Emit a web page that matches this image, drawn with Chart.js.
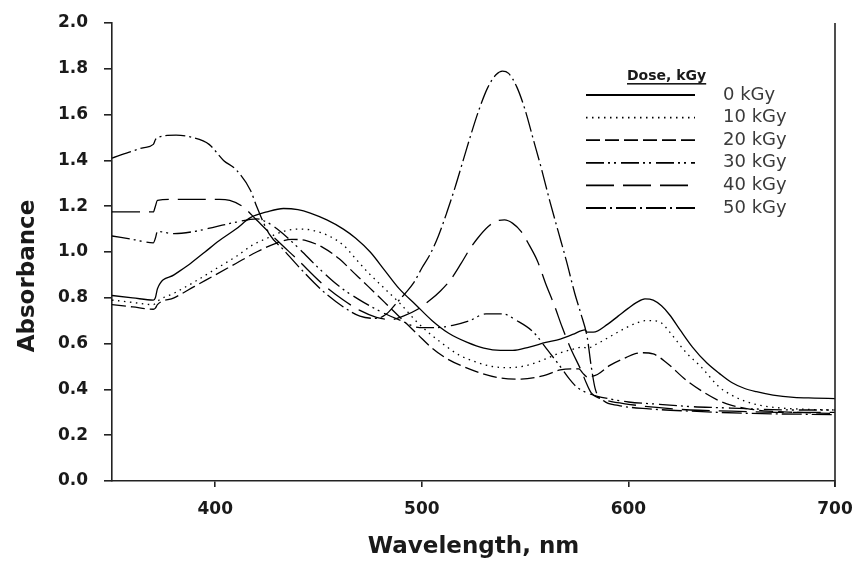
<!DOCTYPE html>
<html>
<head>
<meta charset="utf-8">
<script src="https://cdn.jsdelivr.net/npm/chart.js@4.4.1/dist/chart.umd.min.js"></script>
<style>
html,body{margin:0;padding:0;background:#fff;}
#wrap{width:855px;height:566px;position:relative;}
</style>
</head>
<body>
<div id="wrap"><canvas id="c" width="855" height="566"></canvas></div>
<script>
// ---- data ----
const doseLabels = ['0 kGy', '10 kGy', '20 kGy', '30 kGy', '40 kGy', '50 kGy'];
const legendTitle = 'Dose, kGy';
const xTitle = 'Wavelength, nm';
const yTitle = 'Absorbance';
const xTickValues = [400, 500, 600, 700];
const yTickValues = [0, 0.2, 0.4, 0.6, 0.8, 1.0, 1.2, 1.4, 1.6, 1.8, 2.0];

const wl0  = [350,360,370,371,372,380,388,395,402,410,417,425,433,440,446,454,462,468,475,482,489,497,505,513,522,530,538,544,552,560,567,573,579,580,583,590,595,600,604,608,612,616,620,625,631,638,644,650,656,662,670,680,690,700];
const abs0 = [0.81,0.80,0.79,0.80,0.84,0.90,0.95,1.00,1.05,1.10,1.15,1.175,1.19,1.185,1.17,1.14,1.10,1.06,1.00,0.92,0.84,0.77,0.70,0.645,0.605,0.58,0.57,0.57,0.585,0.605,0.62,0.64,0.66,0.65,0.65,0.685,0.72,0.755,0.78,0.795,0.79,0.765,0.725,0.66,0.585,0.515,0.47,0.43,0.405,0.39,0.375,0.365,0.362,0.36];

const wl1  = [350,360,370,371,372,380,390,400,410,418,425,433,440,447,455,462,468,474,482,490,497,503,510,518,526,534,542,551,559,567,573,578,580,585,591,599,604,608,612,616,620,628,635,644,650,656,664,675,690,700];
const abs1 = [0.79,0.78,0.77,0.775,0.785,0.82,0.87,0.925,0.98,1.03,1.06,1.09,1.10,1.095,1.07,1.03,0.97,0.91,0.84,0.77,0.70,0.65,0.60,0.55,0.52,0.50,0.495,0.505,0.53,0.56,0.575,0.585,0.58,0.60,0.63,0.67,0.69,0.70,0.70,0.69,0.65,0.56,0.50,0.41,0.375,0.35,0.33,0.318,0.312,0.31];

const wl2  = [350,360,370,371,372,380,390,400,410,420,430,437,444,452,460,467,474,482,490,498,505,512,520,529,538,548,559,567,573,576,578,580,585,591,599,603,607,612,618,628,636,644,650,658,668,680,700];
const abs2 = [0.77,0.76,0.75,0.755,0.77,0.80,0.85,0.90,0.95,1.00,1.04,1.055,1.05,1.02,0.97,0.91,0.85,0.78,0.71,0.64,0.58,0.535,0.50,0.47,0.45,0.445,0.46,0.485,0.49,0.49,0.47,0.455,0.465,0.505,0.54,0.555,0.56,0.555,0.52,0.44,0.39,0.35,0.33,0.315,0.305,0.30,0.295];

const wl3  = [350,360,370,371,372,380,390,400,410,420,425,430,440,450,460,470,480,490,499,507,515,523,531,539,546,554,561,567,571,575,580,585,590,600,615,630,645,660,680,700];
const abs3 = [1.07,1.055,1.04,1.06,1.09,1.08,1.09,1.11,1.13,1.145,1.13,1.10,1.02,0.93,0.85,0.79,0.74,0.70,0.67,0.67,0.68,0.70,0.73,0.73,0.70,0.65,0.57,0.50,0.45,0.41,0.385,0.37,0.36,0.345,0.335,0.325,0.32,0.315,0.31,0.31];

const wl4  = [350,360,370,371,372,380,388,395,402,407,413,420,430,440,452,462,470,478,485,491,498,504,509,514,519,523,527,532,536,540,544,548,552,556,560,564,568,572,577,580,582,585,590,600,615,630,650,675,700];
const abs4 = [1.175,1.175,1.175,1.20,1.225,1.23,1.23,1.23,1.23,1.225,1.20,1.14,1.05,0.965,0.86,0.79,0.745,0.715,0.705,0.72,0.75,0.79,0.83,0.88,0.95,1.01,1.06,1.11,1.135,1.14,1.125,1.09,1.03,0.96,0.86,0.77,0.67,0.58,0.485,0.42,0.385,0.365,0.35,0.335,0.32,0.31,0.305,0.30,0.30];

const wl5  = [350,358,365,370,371,372,381,389,397,404,410,417,420,426,433,442,452,462,470,478,483,488,492,496,500,504,508,512,516,520,524,528,532,536,539,542,546,550,554,558,562,566,570,574,577,580,582,584,588,595,610,630,660,700];
const abs5 = [1.41,1.435,1.455,1.47,1.49,1.50,1.51,1.50,1.47,1.40,1.36,1.27,1.20,1.08,1.01,0.92,0.83,0.76,0.72,0.71,0.73,0.78,0.82,0.865,0.93,0.99,1.07,1.17,1.28,1.40,1.52,1.63,1.72,1.775,1.79,1.78,1.72,1.62,1.49,1.36,1.22,1.09,0.96,0.82,0.73,0.63,0.50,0.40,0.35,0.33,0.315,0.305,0.295,0.29];

const seriesWl  = [wl0, wl1, wl2, wl3, wl4, wl5];
const seriesAbs = [abs0, abs1, abs2, abs3, abs4, abs5];

// ---- styles ----
const dashStyles = [[], [1.5, 4.5], [14, 5], [18, 4, 2, 4, 2, 5], [28, 9], [20, 4, 2, 4]];
const TXT = '#1a1a1a';

const datasets = doseLabels.map((lab, i) => ({
  label: lab,
  data: seriesWl[i].map((w, k) => ({x: w, y: seriesAbs[i][k]})),
  borderColor: '#000',
  borderWidth: 1.3,
  borderDash: dashStyles[i],
  pointRadius: 0,
  fill: false,
  cubicInterpolationMode: 'monotone'
}));

const legendPlugin = {
  id: 'doseLegend',
  afterDraw(chart) {
    const ctx = chart.ctx;
    ctx.save();
    ctx.fillStyle = TXT;
    ctx.font = 'bold 14px "DejaVu Sans"';
    ctx.textBaseline = 'alphabetic';
    ctx.textAlign = 'left';
    ctx.fillText(legendTitle, 627, 80);
    const tw = ctx.measureText(legendTitle).width;
    ctx.fillRect(627, 83, tw, 1.6);
    chart.data.datasets.forEach((ds, i) => {
      const y = 95 + i * 22.6;
      ctx.strokeStyle = '#000';
      ctx.lineWidth = 1.8;
      ctx.lineCap = 'butt';
      ctx.setLineDash(ds.borderDash || []);
      ctx.beginPath();
      ctx.moveTo(586, y);
      ctx.lineTo(695, y);
      ctx.stroke();
      ctx.setLineDash([]);
      ctx.font = '18px "DejaVu Sans"';
      ctx.textBaseline = 'middle';
      ctx.fillStyle = '#3a3a3a';
      ctx.fillText(ds.label, 723, y);
    });
    ctx.restore();
  }
};

const rightBorder = {
  id: 'rightBorder',
  afterDraw(chart) {
    const {ctx, chartArea} = chart;
    ctx.save();
    ctx.strokeStyle = '#222';
    ctx.lineWidth = 1.6;
    ctx.beginPath();
    ctx.moveTo(chartArea.right, chartArea.top);
    ctx.lineTo(chartArea.right, chartArea.bottom + 6);
    ctx.stroke();
    ctx.restore();
  }
};

new Chart(document.getElementById('c'), {
  type: 'line',
  data: { datasets },
  plugins: [legendPlugin, rightBorder],
  options: {
    responsive: false,
    animation: false,
    devicePixelRatio: 1,
    layout: { padding: { top: 23, right: 20, left: 0, bottom: 0 } },
    plugins: { legend: { display: false }, tooltip: { enabled: false } },
    scales: {
      x: {
        type: 'linear',
        min: 350, max: 700,
        afterBuildTicks: s => { s.ticks = xTickValues.map(v => ({value: v})); },
        afterFit: s => { s.height = 85; s.paddingLeft = 0; s.paddingRight = 0; },
        grid: { display: true, drawOnChartArea: false, drawTicks: true, tickLength: 6, color: '#222', lineWidth: 1.6 },
        border: { display: true, color: '#222', width: 1.6 },
        ticks: { color: TXT, font: { family: 'DejaVu Sans', size: 17, weight: 'bold' }, padding: 12, maxRotation: 0 },
        title: { display: true, text: xTitle, color: TXT, font: { family: 'DejaVu Sans', size: 23, weight: 'bold' }, padding: { top: 0, bottom: 5 } }
      },
      y: {
        type: 'linear',
        min: 0, max: 2.0,
        afterBuildTicks: s => { s.ticks = yTickValues.map(v => ({value: v})); },
        afterFit: s => { s.width = 112; s.paddingTop = 0; s.paddingBottom = 0; },
        grid: { display: true, drawOnChartArea: false, drawTicks: true, tickLength: 8, color: '#222', lineWidth: 1.6 },
        border: { display: true, color: '#222', width: 1.6 },
        ticks: { color: TXT, font: { family: 'DejaVu Sans', size: 17, weight: 'bold' }, padding: 16, callback: v => Number(v).toFixed(1) },
        title: { display: true, text: yTitle + '      ', color: TXT, font: { family: 'DejaVu Sans', size: 23, weight: 'bold' }, padding: { top: 14, bottom: 0 } }
      }
    }
  }
});
</script>
</body>
</html>
